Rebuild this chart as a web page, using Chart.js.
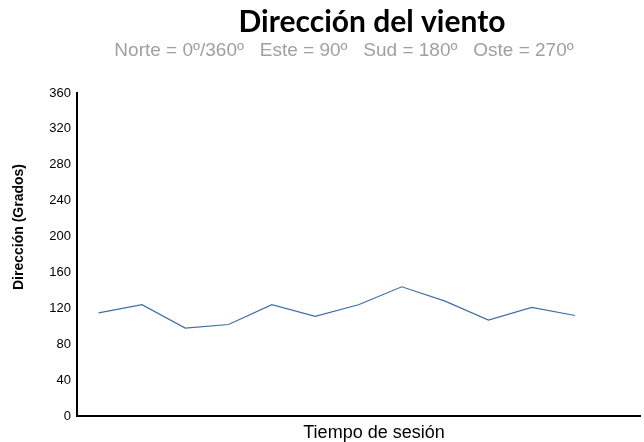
<!DOCTYPE html>
<html>
<head>
<meta charset="utf-8">
<script src="https://cdn.jsdelivr.net/npm/chart.js@4.4.1/dist/chart.umd.min.js"></script>
<style>
  html, body { margin: 0; padding: 0; background: #fff; }
  #wrap { width: 644px; height: 442px; position: relative; }
</style>
</head>
<body>
<div id="wrap"><canvas id="windChart"></canvas></div>
<script>
// session time slots (no labels shown on the axis), last slot is empty
const sessionLabels = ['', '', '', '', '', '', '', '', '', '', '', '', ''];
const windDirection = [115, 124, 98, 102, 124, 111, 124, 144, 128, 107, 121, 112, null];
const yTicks = { min: 0, max: 360, step: 40 };

const chartTitle = 'Dirección del viento';
const chartSubtitle = 'Norte = 0º/360º   Este = 90º   Sud = 180º   Oste = 270º';
const xTitle = 'Tiempo de sesión';
const yTitle = 'Dirección (Grados)';

// titles drawn by hand, they sit off the canvas / axis centers in the original
const textPlugin = {
    id: 'texts',
    afterDraw(chart) {
        const c = chart.ctx;
        c.save();
        c.textAlign = 'center';
        c.textBaseline = 'alphabetic';
        c.fillStyle = '#000';
        c.font = 'bold 30px Lato';
        c.fillText(chartTitle, 372, 32);
        c.fillStyle = '#a0a0a0';
        c.font = '19px "Liberation Sans"';
        c.fillText(chartSubtitle, 344, 56);

        c.fillStyle = '#000';
        c.textBaseline = 'middle';
        c.font = '18px "Liberation Sans"';
        c.fillText(xTitle, 374, 433);

        c.translate(19, 227);
        c.rotate(-Math.PI / 2);
        c.font = 'bold 14px "Liberation Sans"';
        c.fillText(yTitle, 0, 0);
        c.restore();
    }
};

const ctx = document.getElementById('windChart').getContext('2d');
const windChart = new Chart(ctx, {
    type: 'line',
    data: {
        labels: sessionLabels,
        datasets: [{
            label: 'Dirección',
            data: windDirection,
            borderColor: '#3f6ea8',
            borderWidth: 1.2,
            pointRadius: 0,
            tension: 0,
            fill: false
        }]
    },
    options: {
        responsive: true,
        maintainAspectRatio: false,
        animation: false,
        layout: { padding: { top: 93, right: 4, left: 0, bottom: 0 } },
        plugins: {
            legend: { display: false },
            tooltip: { enabled: false },
            title: { display: false }
        },
        scales: {
            x: {
                offset: true,
                grid: { display: false, drawTicks: false },
                border: { display: true, color: '#000', width: 2 },
                ticks: { display: false },
                afterFit: s => { s.height = 26; }
            },
            y: {
                min: yTicks.min,
                max: yTicks.max,
                grid: { display: false, drawTicks: false },
                border: { display: true, color: '#000', width: 2 },
                ticks: {
                    stepSize: yTicks.step,
                    padding: 6,
                    color: '#000',
                    font: { family: 'Liberation Sans', size: 13 }
                },
                afterFit: s => { s.width = 77; }
            }
        }
    },
    plugins: [textPlugin]
});
</script>
</body>
</html>
